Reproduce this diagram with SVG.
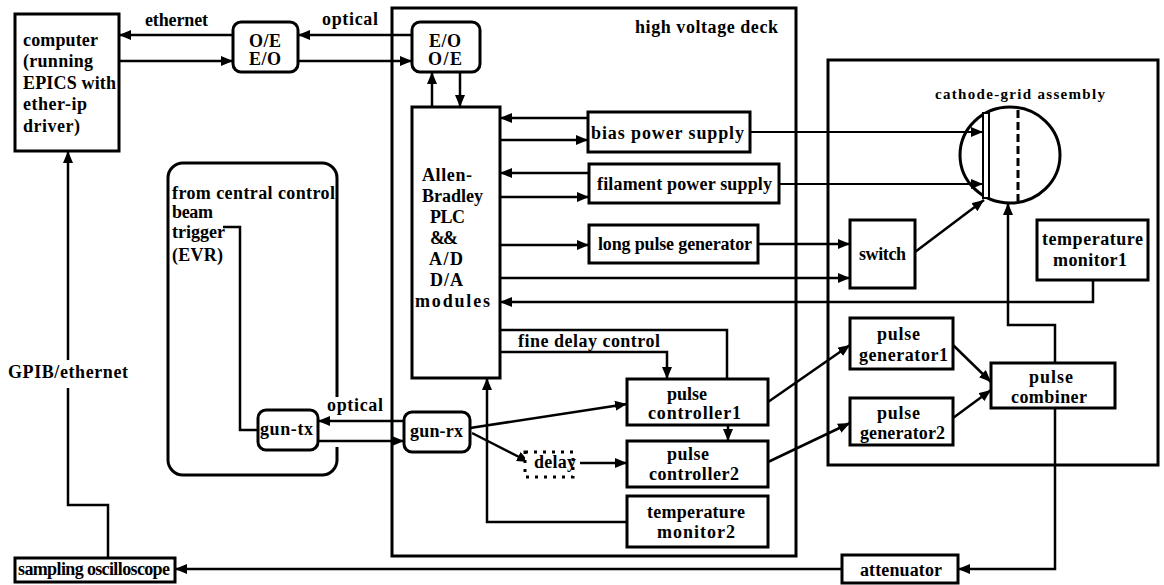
<svg xmlns="http://www.w3.org/2000/svg" width="1164" height="585" viewBox="0 0 1164 585">
<style>
.b{fill:#fff;stroke:#000;stroke-width:3}
.c{fill:none;stroke:#000;stroke-width:2.5}
.th{fill:none;stroke:#000;stroke-width:2}
.t{font-family:"Liberation Serif","Times New Roman",serif;font-weight:bold;font-size:18px;fill:#000}
.s{font-size:15px}
.m{text-anchor:middle}
</style>
<defs>
<marker id="ah" viewBox="0 0 12 10" refX="12" refY="5" markerWidth="12" markerHeight="10" markerUnits="userSpaceOnUse" orient="auto">
<path d="M0,0 L12,5 L0,10 z" fill="#000"/>
</marker>
</defs>
<rect x="0" y="0" width="1164" height="585" fill="#fff"/>

<g id="deck">
<rect class="b" x="392" y="8" width="404" height="548" fill="none" style="fill:none"/>
<text class="t" x="635" y="33" textLength="143">high voltage deck</text>
</g>
<g id="cathode-grid-assembly">
<rect class="b" x="828" y="60" width="330" height="405" style="fill:none"/>
<text class="t s" x="935" y="99" textLength="170">cathode-grid assembly</text>
<ellipse cx="1010" cy="155" rx="50" ry="48" fill="#fff" stroke="#000" stroke-width="3"/>
<rect x="983" y="113" width="6" height="85" fill="#fff" stroke="#000" stroke-width="2"/>
<line x1="1018" y1="110" x2="1018" y2="201" stroke="#000" stroke-width="3" stroke-dasharray="8,4"/>
</g>
<g id="central-control">
<path class="b" style="fill:none" d="M337,397 V178 A15,15 0 0 0 322,163 H183 A15,15 0 0 0 168,178 V460 A15,15 0 0 0 183,475 H322 A15,15 0 0 0 337,460 V447"/>
<text class="t" x="172" y="199" textLength="163">from central control</text>
<text class="t" x="172" y="218" textLength="41">beam</text>
<text class="t" x="172" y="238" textLength="53">trigger</text>
<text class="t" x="172" y="261" textLength="51">(EVR)</text>
</g>

<g id="connectors">
<line class="c" x1="233" y1="35" x2="119" y2="35" marker-end="url(#ah)"/>
<line class="c" x1="119" y1="61" x2="233" y2="61" marker-end="url(#ah)"/>
<line class="c" x1="412" y1="35" x2="298" y2="35" marker-end="url(#ah)"/>
<line class="c" x1="298" y1="61" x2="412" y2="61" marker-end="url(#ah)"/>
<line class="c" x1="432" y1="107" x2="432" y2="72" marker-end="url(#ah)"/>
<line class="c" x1="460" y1="72" x2="460" y2="107" marker-end="url(#ah)"/>
<line class="c" x1="588" y1="118" x2="500" y2="118" marker-end="url(#ah)"/>
<line class="c" x1="500" y1="140" x2="588" y2="140" marker-end="url(#ah)"/>
<line class="c" x1="589" y1="173" x2="500" y2="173" marker-end="url(#ah)"/>
<line class="c" x1="500" y1="197" x2="589" y2="197" marker-end="url(#ah)"/>
<line class="c" x1="500" y1="245" x2="589" y2="245" marker-end="url(#ah)"/>
<line class="c" x1="758" y1="244" x2="850" y2="244" marker-end="url(#ah)"/>
<line class="c" x1="500" y1="278" x2="850" y2="278" marker-end="url(#ah)"/>
<line class="th" x1="750" y1="132" x2="983" y2="132" marker-end="url(#ah)"/>
<line class="th" x1="779" y1="184" x2="983" y2="184" marker-end="url(#ah)"/>
<line class="c" x1="915" y1="252" x2="984" y2="200" marker-end="url(#ah)"/>
<path class="c" d="M1093,280 V302 H500" marker-end="url(#ah)"/>
<path class="c" d="M1055,363 V325 H1008 V203" marker-end="url(#ah)"/>
<path class="c" d="M1055,408 V569 H958" marker-end="url(#ah)"/>
<line class="c" x1="842" y1="569" x2="175" y2="569" marker-end="url(#ah)"/>
<path class="c" d="M108,558 V505 H68 V388 M68,360 V151" marker-end="url(#ah)"/>
<path class="c" d="M223,227 H240 V430 H258"/>
<line class="c" x1="404" y1="421" x2="318" y2="421" marker-end="url(#ah)"/>
<line class="c" x1="318" y1="441" x2="404" y2="441" marker-end="url(#ah)"/>
<line class="c" x1="470" y1="428" x2="627" y2="404" marker-end="url(#ah)"/>
<line class="c" x1="472" y1="433" x2="529" y2="462" marker-end="url(#ah)"/>
<line class="c" x1="580" y1="463" x2="627" y2="463" marker-end="url(#ah)"/>
<line class="c" x1="728" y1="425" x2="728" y2="441" marker-end="url(#ah)"/>
<path class="c" d="M500,352 H667 V379" marker-end="url(#ah)"/>
<path class="c" d="M500,330 H727 V379"/>
<path class="c" d="M627,522 H487 V378" marker-end="url(#ah)"/>
<line class="c" x1="768" y1="402" x2="850" y2="345" marker-end="url(#ah)"/>
<line class="c" x1="768" y1="462" x2="850" y2="423" marker-end="url(#ah)"/>
<line class="c" x1="953" y1="345" x2="991" y2="382" marker-end="url(#ah)"/>
<line class="c" x1="953" y1="418" x2="991" y2="390" marker-end="url(#ah)"/>
<text class="t" x="145" y="26" textLength="63">ethernet</text>
<text class="t" x="322" y="25" textLength="56">optical</text>
<text class="t" x="327" y="411" textLength="56">optical</text>
<text class="t" x="8" y="378" textLength="120">GPIB/ethernet</text>
<text class="t" x="518" y="347" textLength="142">fine delay control</text>
</g>

<g id="computer">
<rect class="b" x="15" y="14" width="104" height="137"/>
<text class="t" x="23" y="46" textLength="75">computer</text>
<text class="t" x="23" y="67" textLength="70">(running</text>
<text class="t" x="23" y="89" textLength="93">EPICS with</text>
<text class="t" x="23" y="110" textLength="64">ether-ip</text>
<text class="t" x="23" y="132" textLength="57">driver)</text>
</g>
<g id="oe-converter-1">
<rect class="b" x="233" y="22" width="65" height="50" rx="8"/>
<text class="t m" x="265" y="47" textLength="32">O/E</text>
<text class="t m" x="265" y="65" textLength="32">E/O</text>
</g>
<g id="eo-converter-2">
<rect class="b" x="412" y="22" width="68" height="50" rx="8"/>
<text class="t m" x="445" y="47" textLength="32">E/O</text>
<text class="t m" x="445" y="65" textLength="34">O/E</text>
</g>
<g id="plc">
<rect class="b" x="412" y="107" width="88" height="271"/>
<text class="t" x="422" y="181" textLength="50">Allen-</text>
<text class="t" x="422" y="202" textLength="61">Bradley</text>
<text class="t" x="430" y="223" textLength="35">PLC</text>
<text class="t" x="430" y="244" textLength="28">&amp;&amp;</text>
<text class="t" x="429" y="265" textLength="34">A/D</text>
<text class="t" x="430" y="286" textLength="33">D/A</text>
<text class="t" x="415" y="307" textLength="75">modules</text>
</g>
<g id="bias-power-supply">
<rect class="b" x="588" y="112" width="162" height="40"/>
<text class="t" x="591" y="139" textLength="153">bias power supply</text>
</g>
<g id="filament-power-supply">
<rect class="b" x="589" y="164" width="190" height="39"/>
<text class="t" x="597" y="190" textLength="175">filament power supply</text>
</g>
<g id="long-pulse-generator">
<rect class="b" x="589" y="225" width="169" height="38"/>
<text class="t" x="598" y="250" textLength="154">long pulse generator</text>
</g>
<g id="switch">
<rect class="b" x="850" y="220" width="65" height="68"/>
<text class="t" x="859" y="260" textLength="47">switch</text>
</g>
<g id="temperature-monitor1">
<rect class="b" x="1037" y="220" width="111" height="60"/>
<text class="t" x="1042" y="245" textLength="101">temperature</text>
<text class="t" x="1053" y="266" textLength="74">monitor1</text>
</g>
<g id="pulse-generator1">
<rect class="b" x="850" y="318" width="103" height="51"/>
<text class="t" x="877" y="340" textLength="43">pulse</text>
<text class="t" x="859" y="361" textLength="89">generator1</text>
</g>
<g id="pulse-generator2">
<rect class="b" x="850" y="398" width="103" height="47"/>
<text class="t" x="877" y="419" textLength="43">pulse</text>
<text class="t" x="860" y="439" textLength="85">generator2</text>
</g>
<g id="pulse-combiner">
<rect class="b" x="991" y="363" width="124" height="45"/>
<text class="t" x="1029" y="383" textLength="44">pulse</text>
<text class="t" x="1011" y="403" textLength="76">combiner</text>
</g>
<g id="gun-tx">
<rect class="b" x="258" y="410" width="60" height="40" rx="8"/>
<text class="t" x="260" y="435" textLength="53">gun-tx</text>
</g>
<g id="gun-rx">
<rect class="b" x="404" y="412" width="66" height="40" rx="8"/>
<text class="t" x="410" y="437" textLength="53">gun-rx</text>
</g>
<g id="delay">
<rect x="525" y="452" width="48" height="25" fill="#fff" stroke="#000" stroke-width="3" stroke-dasharray="3,6"/>
<text class="t" x="534" y="468" textLength="42">delay</text>
</g>
<g id="pulse-controller1">
<rect class="b" x="627" y="379" width="141" height="46"/>
<text class="t" x="667" y="400" textLength="40">pulse</text>
<text class="t" x="648" y="419" textLength="93">controller1</text>
</g>
<g id="pulse-controller2">
<rect class="b" x="627" y="441" width="141" height="46"/>
<text class="t" x="667" y="460" textLength="42">pulse</text>
<text class="t" x="649" y="480" textLength="90">controller2</text>
</g>
<g id="temperature-monitor2">
<rect class="b" x="627" y="496" width="141" height="51"/>
<text class="t" x="647" y="518" textLength="98">temperature</text>
<text class="t" x="657" y="538" textLength="78">monitor2</text>
</g>
<g id="attenuator">
<rect class="b" x="842" y="555" width="116" height="28"/>
<text class="t" x="860" y="576" textLength="82">attenuator</text>
</g>
<g id="sampling-oscilloscope">
<rect class="b" x="15" y="558" width="160" height="24"/>
<text class="t" x="18" y="575" textLength="152">sampling oscilloscope</text>
</g>
</svg>
